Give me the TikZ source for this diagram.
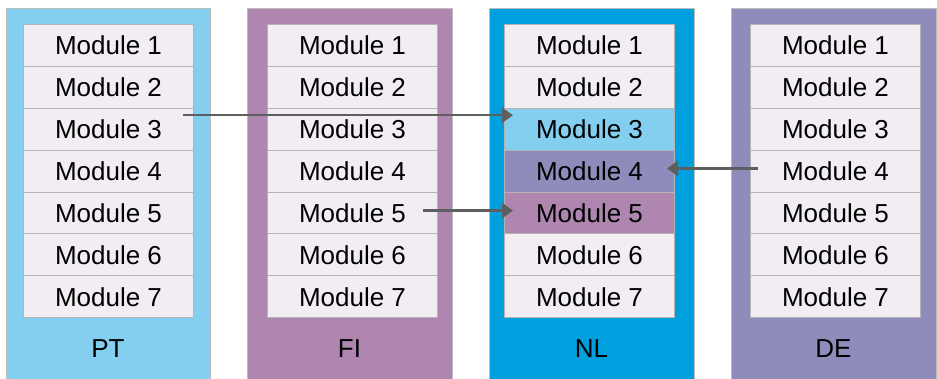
\documentclass[tikz,border=0pt]{standalone}
\usepackage{fontspec}
\setmainfont{Liberation Sans}
\usetikzlibrary{calc,arrows.meta}
\definecolor{cPT}{HTML}{84CFEF}
\definecolor{cFI}{HTML}{AE86B0}
\definecolor{cNL}{HTML}{00A0DF}
\definecolor{cDE}{HTML}{8E8CBB}
\definecolor{modfill}{HTML}{F1EDF3}
\definecolor{modline}{HTML}{B4B4B4}
\definecolor{colline}{HTML}{BDBDBD}
\definecolor{arrowc}{HTML}{5E5E5E}
\tikzset{
  colbox/.style={draw=colline, line width=0.8pt},
  modbox/.style={draw=modline, line width=1pt, fill=modfill, minimum width=170pt, minimum height=41.9pt, inner sep=0pt, anchor=north west, font=\fontsize{26}{30}\selectfont},
  collabel/.style={font=\fontsize{26}{30}\selectfont, inner sep=0pt},
  conn/.style={draw=arrowc, line width=2.3pt, -{Triangle[length=11pt,width=15pt]}}
}
\begin{document}
\begin{tikzpicture}[x=1pt,y=-1pt]
\useasboundingbox (0,0) rectangle (937,379);
\clip (0,0) rectangle (937,379);
% columns
\draw[colbox, fill=cPT] (6,8) rectangle (210,385);
\draw[colbox, fill=cFI] (247,8) rectangle (452,385);
\draw[colbox, fill=cNL] (489,8) rectangle (694,385);
\draw[colbox, fill=cDE] (731,8) rectangle (936,385);
% modules
\foreach \c/\x in {PT/23, FI/267, NL/504, DE/750}{
  \foreach \i in {1,...,7}{
    \node[modbox] (\c\i) at (\x, {24+41.9*(\i-1)}) {Module \i};
  }
}
% highlighted modules in NL
\node[modbox, fill=cPT] (NL3) at (504, {24+41.9*2}) {Module 3};
\node[modbox, fill=cDE] (NL4) at (504, {24+41.9*3}) {Module 4};
\node[modbox, fill=cFI] (NL5) at (504, {24+41.9*4}) {Module 5};
% labels
\node[collabel] (lPT) at (108,349) {PT};
\node[collabel] (lFI) at (349.5,349) {FI};
\node[collabel] (lNL) at (591.5,349) {NL};
\node[collabel] (lDE) at (833.5,349) {DE};
% connectors
\coordinate (s1) at ($(PT3.east)+(-11,-14)$);
\coordinate (t1) at ($(NL3.west)+(9,-14)$);
\draw[conn] (s1) -- (t1);
\coordinate (s2) at ($(FI5.east)+(-15,-2.5)$);
\coordinate (t2) at ($(NL5.west)+(9,-2.5)$);
\draw[conn] (s2) -- (t2);
\coordinate (s3) at ($(DE4.west)+(8,-2.7)$);
\coordinate (t3) at ($(NL4.east)+(-8,-2.7)$);
\draw[conn] (s3) -- (t3);
\end{tikzpicture}
\end{document}
